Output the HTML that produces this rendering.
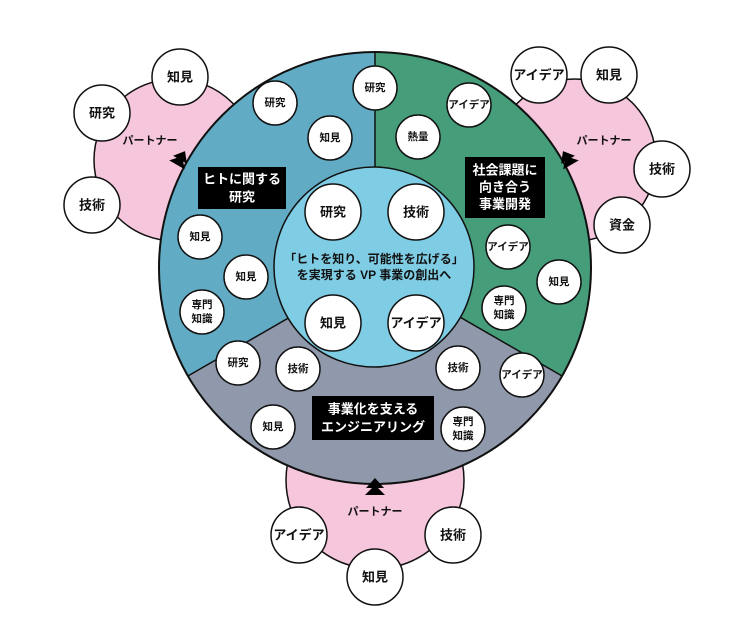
<!DOCTYPE html>
<html><head><meta charset="utf-8"><style>
html,body{margin:0;padding:0;background:#fff;}
svg text{font-family:"Liberation Sans","Noto Sans CJK JP",sans-serif;font-weight:bold;text-anchor:middle;dominant-baseline:central;}
</style></head><body>
<svg width="750" height="620" viewBox="0 0 750 620" xmlns="http://www.w3.org/2000/svg">
<g stroke="#111" stroke-width="1.5">
<circle cx="175" cy="160" r="81" fill="#f5c6dc"/>
<circle cx="575" cy="160" r="81" fill="#f5c6dc"/>
<circle cx="375" cy="480" r="89" fill="#f5c6dc"/>
</g>
<!-- sectors -->
<path d="M375,268 L375,52 A216,216 0 0,0 187.9,376 Z" fill="#62abc4"/>
<path d="M375,268 L375,52 A216,216 0 0,1 562.1,376 Z" fill="#459d7a"/>
<path d="M375,268 L187.9,376 A216,216 0 0,0 562.1,376 Z" fill="#9099ab"/>
<g stroke="#111" stroke-width="1.5">
<line x1="375" y1="52" x2="375" y2="268"/>
<line x1="375" y1="268" x2="187.9" y2="376"/>
<line x1="375" y1="268" x2="562.1" y2="376"/>
<circle cx="375" cy="268" r="216" fill="none" stroke-width="2"/>
<circle cx="374" cy="267" r="100" fill="#7fcde4"/>
</g>
<!-- labels boxes -->
<rect x="198" y="167" width="88" height="42" fill="#000"/>
<text x="242" y="179" fill="#fff" font-size="13">ヒトに関する</text>
<text x="242" y="197" fill="#fff" font-size="13">研究</text>
<rect x="465" y="157" width="80" height="61" fill="#000"/>
<text x="505" y="170" fill="#fff" font-size="13">社会課題に</text>
<text x="505" y="187" fill="#fff" font-size="13">向き合う</text>
<text x="505" y="204" fill="#fff" font-size="13">事業開発</text>
<rect x="312" y="396" width="122" height="44" fill="#000"/>
<text x="373" y="409" fill="#fff" font-size="13">事業化を支える</text>
<text x="373" y="427" fill="#fff" font-size="13">エンジニアリング</text>
<text x="374" y="259" fill="#111" font-size="12">「ヒトを知り、可能性を広げる」</text>
<text x="374" y="275" fill="#111" font-size="12">を実現する VP 事業の創出へ</text>
<!-- partner labels -->
<text x="150" y="141" font-size="11" fill="#111">パートナー</text>
<text x="604" y="141" font-size="11" fill="#111">パートナー</text>
<text x="375" y="512" font-size="11" fill="#111">パートナー</text>
<!-- arrows -->
<g fill="#000">
<polygon points="375,478 366,488 384,488"/><polygon points="375,485 365,495 385,495"/>
<g transform="translate(181,158) rotate(30)"><polygon points="0,-8 -8,2 8,2"/><polygon points="0,-2 -9,8 9,8"/></g>
<g transform="translate(567,158) rotate(-30)"><polygon points="0,-8 -8,2 8,2"/><polygon points="0,-2 -9,8 9,8"/></g>
</g>
<!-- white circles -->
<g stroke="#111" stroke-width="1.5" fill="#fff">
<circle cx="180" cy="77" r="28"/><circle cx="102" cy="113" r="28"/><circle cx="92" cy="205" r="28"/>
<circle cx="539" cy="75" r="28"/><circle cx="609" cy="75" r="28"/><circle cx="662" cy="169" r="28"/><circle cx="622" cy="225" r="28"/>
<circle cx="299" cy="535" r="28"/><circle cx="375" cy="577" r="28"/><circle cx="453" cy="535" r="28"/>
<circle cx="275" cy="103" r="22"/><circle cx="330" cy="138" r="22"/><circle cx="375" cy="88" r="22"/>
<circle cx="200" cy="237" r="22"/><circle cx="246" cy="277" r="22"/><circle cx="202" cy="312" r="22"/>
<circle cx="469" cy="105" r="22"/><circle cx="418" cy="137" r="22"/><circle cx="508" cy="247" r="22"/><circle cx="559" cy="282" r="22"/><circle cx="504" cy="308" r="22"/>
<circle cx="238" cy="363" r="22"/><circle cx="298" cy="369" r="22"/><circle cx="273" cy="427" r="22"/>
<circle cx="458" cy="368" r="22"/><circle cx="522" cy="375" r="22"/><circle cx="463" cy="429" r="22"/>
<circle cx="333" cy="212" r="28"/><circle cx="416" cy="212" r="28"/><circle cx="333" cy="323" r="28"/><circle cx="416" cy="323" r="28"/>
</g>
<g fill="#111">
<g font-size="13">
<text x="180" y="77">知見</text><text x="102" y="113">研究</text><text x="92" y="205">技術</text>
<text x="539" y="75">アイデア</text><text x="609" y="75">知見</text><text x="662" y="169">技術</text><text x="622" y="225">資金</text>
<text x="299" y="535">アイデア</text><text x="375" y="577">知見</text><text x="453" y="535">技術</text>
<text x="333" y="212">研究</text><text x="416" y="212">技術</text><text x="333" y="323">知見</text><text x="416" y="323">アイデア</text>
</g>
<g font-size="10.5">
<text x="275" y="103">研究</text><text x="330" y="138">知見</text><text x="375" y="88">研究</text>
<text x="200" y="237">知見</text><text x="246" y="277">知見</text>
<text x="202" y="305">専門</text><text x="202" y="319">知識</text>
<text x="469" y="105">アイデア</text><text x="418" y="137">熱量</text><text x="508" y="247">アイデア</text><text x="559" y="282">知見</text>
<text x="504" y="301">専門</text><text x="504" y="315">知識</text>
<text x="238" y="363">研究</text><text x="298" y="369">技術</text><text x="273" y="427">知見</text>
<text x="458" y="368">技術</text><text x="522" y="375">アイデア</text>
<text x="463" y="422">専門</text><text x="463" y="436">知識</text>
</g>
</g>
</svg>
</body></html>
